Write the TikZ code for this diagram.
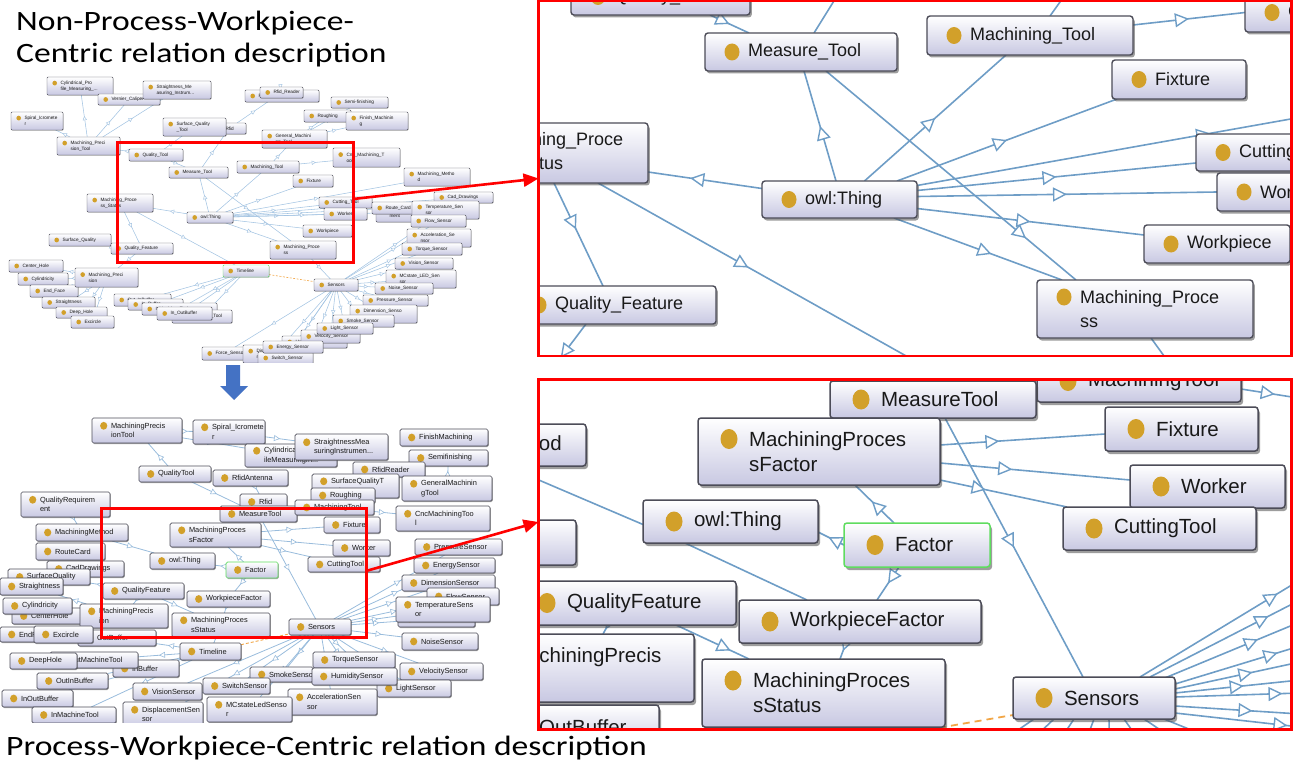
\documentclass[tikz,border=0pt]{standalone}
\usepackage{fontspec}
\usetikzlibrary{arrows.meta,decorations.markings,shadows}
\newfontfamily\gf{Liberation Sans}
\newfontfamily\tf[FakeStretch=1.2]{Carlito}
\definecolor{lav}{HTML}{C8C8E2}
\definecolor{bordc}{HTML}{4C4C58}
\definecolor{dotc}{HTML}{D2A02A}
\definecolor{lnkc}{HTML}{6E9DC6}
\definecolor{lnkl}{HTML}{A4C4E2}
\definecolor{redc}{HTML}{FF0000}
\definecolor{orng}{HTML}{F2A646}
\definecolor{arrb}{HTML}{4472C4}
\definecolor{grnc}{HTML}{5FDC5F}
\pgfdeclarelayer{edges}
\pgfdeclarelayer{fore}
\pgfsetlayers{edges,main,fore}
\def\dotdy{0}\def\dotx{0}\def\dotrx{1}\def\dotry{1}
\def\padt{13.5}\def\padb{19}\def\padT{43}\def\padB{51}
% class box: [extra options]{kind}{name}{x}{y}{width}{height}{label}
\newcommand\cls[8][]{%
  \edef\clspad{\csname pad#2\endcsname}%
  \pgfmathsetmacro\clstw{#6-2*\clspad}%
  \node[k#2, #1, anchor=north west, minimum height=#7pt, text width=\clstw pt] (#3) at (#4,#5) {#8};}
\tikzset{
  dotup/.code={\def\dotdy{#1}},
  dotpar/.code n args={3}{\def\dotx{#1}\def\dotrx{#2}\def\dotry{#3}},
  clsbox/.style={draw=bordc, top color=white, bottom color=lav, align=left, inner ysep=0pt,
    outer sep=0pt, text=black!90, dotup=0,
    path picture={\fill[dotc] ([xshift=\dotx pt, yshift=\dotdy pt]path picture bounding box.west)
      ellipse [x radius=\dotrx pt, y radius=\dotry pt];}},
  kt/.style={clsbox, line width=0.45pt, rounded corners=1pt, inner xsep=13.5pt,
    font=\gf\fontsize{4.7}{5.8}\selectfont, dotpar={7.7}{2.3}{2.4},
    drop shadow={shadow xshift=0.5pt, shadow yshift=-0.7pt, opacity=.45, fill=black!70}},
  kb/.style={clsbox, line width=0.7pt, rounded corners=1.5pt, inner xsep=19pt,
    font=\gf\fontsize{7.4}{9.4}\selectfont, dotpar={11.7}{3.6}{3.9},
    drop shadow={shadow xshift=0.8pt, shadow yshift=-1pt, opacity=.5, fill=black!70}},
  kT/.style={clsbox, line width=1.4pt, rounded corners=3pt, inner xsep=43pt,
    font=\gf\fontsize{18}{24}\selectfont, dotpar={27}{7.5}{8.5},
    drop shadow={shadow xshift=1.8pt, shadow yshift=-2.5pt, opacity=.55, fill=black!70}},
  kB/.style={clsbox, line width=1.5pt, rounded corners=3pt, inner xsep=51pt,
    font=\gf\fontsize{20.5}{25}\selectfont, dotpar={31}{8.5}{10},
    drop shadow={shadow xshift=2pt, shadow yshift=-3pt, opacity=.55, fill=black!70}},
  lnkS/.style={color=lnkl, line width=0.55pt, postaction={decorate, decoration={markings,
    mark=at position #1 with {\arrow{Triangle[length=4.2pt,width=4.2pt,fill=white,line width=0.45pt]}}}}},
  lnkS/.default=0.5,
  lnkb/.style={color=lnkl!80!lnkc, line width=0.8pt, postaction={decorate, decoration={markings,
    mark=at position #1 with {\arrow{Triangle[length=6pt,width=6pt,fill=white,line width=0.6pt]}}}}},
  lnkb/.default=0.5,
  lnkT/.style={color=lnkc, line width=1.6pt, postaction={decorate, decoration={markings,
    mark=at position #1 with {\arrow{Triangle[length=14pt,width=14pt,fill=white,line width=1.4pt]}}}}},
  lnkT/.default=0.5,
  lnT/.style={color=lnkc, line width=1.6pt},
  lnB/.style={color=lnkc, line width=1.6pt},
  dashS/.style={color=orng, line width=0.6pt, dash pattern=on 2pt off 1.5pt},
  dashb/.style={color=orng, line width=0.9pt, dash pattern=on 3pt off 2pt},
  dashB/.style={color=orng, line width=1.8pt, dash pattern=on 7pt off 5pt},
  redbox/.style={draw=redc, inner sep=0pt, outer sep=0pt, anchor=north west},
  ttl/.style={font=\tf\fontsize{28}{33}\selectfont, inner sep=0pt, text=black},
}
\begin{document}
\begin{tikzpicture}[x=1pt, y=-1pt]
\useasboundingbox (0,0) rectangle (1295,762);

% ---------- titles ----------
\node[ttl, anchor=base west] (ttlA) at (16,31) {Non-Process-Workpiece-};
\node[ttl, anchor=base west] (ttlB) at (16,63) {Centric relation description};
\node[ttl, anchor=base west] (ttlC) at (6,755) {Process-Workpiece-Centric relation description};

% ---------- upper overview graph ----------
\begin{scope}
\clip (0,70) rectangle (530,362);
\cls[dotup=2.9]{t}{tCyl}{47}{77}{66}{18}{Cylindrical\_Pro\\file\_Measuring\_...}
\cls{t}{tVer}{98}{94}{62}{11}{Vernier\_Caliper}
\cls[dotup=2.9]{t}{tStr}{143}{81}{68}{18}{Straightness\_Me\\asuring\_Instrum...}
\cls[dotup=2.9]{t}{tSpi}{11}{112}{52}{18}{Spiral\_Icromete\\r}
\cls[dotup=2.9]{t}{tMpt}{57}{137}{63}{18}{Machining\_Preci\\sion\_Tool}
\cls{t}{tRfid}{212}{123}{34}{11}{Rfid}
\cls[dotup=2.9]{t}{tSqt}{163}{118}{63}{18}{Surface\_Quality\\\_Tool}
\cls{t}{tQt}{129}{149}{54}{12}{Quality\_Tool}
\cls{t}{tMt}{169}{167}{59}{11}{Measure\_Tool}
\cls{t}{tMto}{237}{161}{62}{12}{Machining\_Tool}
\cls[dotup=2.9]{t}{tMps}{87}{194}{66}{18}{Machining\_Proce\\ss\_Status}
\cls{t}{tOwl}{187}{212}{46}{11}{owl:Thing}
\cls{t}{tRan}{245}{90}{74}{12}{Rfid\_Antenna}
\cls{t}{tRrd}{260}{87}{43}{11}{Rfid\_Reader}
\cls{t}{tSemi}{331}{97}{57}{11}{Semi-finishing}
\cls{t}{tRou}{304}{110}{47}{12}{Roughing}
\cls[dotup=2.9]{t}{tFin}{346}{112}{62}{18}{Finish\_Machinin\\g}
\cls[dotup=2.9]{t}{tGmt}{262}{130}{65}{18}{General\_Machini\\ng\_Tool}
\cls[dotup=2.9]{t}{tCnc}{333}{148}{67}{19}{Cnc\_Machining\_T\\ool}
\cls{t}{tFix}{293}{175}{40}{12}{Fixture}
\cls[dotup=2.9]{t}{tMme}{404}{168}{66}{18}{Machining\_Metho\\d}
\cls{t}{tCad}{434}{192}{59}{11}{Cad\_Drawings}
\cls{t}{tCt}{319}{197}{53}{11}{Cutting\_Tool}
\cls[dotup=2.9]{t}{tQrq}{376}{203}{42}{19}{Quality\_Require\\ment}
\cls{t}{tRc}{372}{202}{45}{12}{Route\_Card}
\cls[dotup=2.9]{t}{tTmp}{412}{201}{67}{18}{Temperature\_Sen\\sor}
\cls{t}{tWrk}{324}{208}{43}{12}{Worker}
\cls{t}{tWp}{303}{225}{49}{12}{Workpiece}
\cls[dotup=2.9]{t}{tMp}{270}{241}{66}{18}{Machining\_Proce\\ss}
\cls{t}{tFlo}{411}{215}{55}{12}{Flow\_Sensor}
\cls[dotup=2.9]{t}{tAcc}{407}{229}{64}{18}{Acceleration\_Se\\nsor}
\cls{t}{tTor}{402}{243}{60}{12}{Torque\_Sensor}
\cls{t}{tVis}{395}{258}{58}{11}{Vision\_Sensor}
\cls[dotup=2.9]{t}{tMcl}{386}{270}{70}{18}{MCstate\_LED\_Sen\\sor}
\cls{t}{tNoi}{375}{283}{58}{11}{Noise\_Sensor}
\cls{t}{tPre}{363}{295}{65}{11}{Pressure\_Sensor}
\cls[dotup=2.9]{t}{tDim}{350}{305}{67}{18}{Dimension\_Senso\\r}
\cls{t}{tSmo}{333}{315}{61}{12}{Smoke\_Sensor}
\cls{t}{tHum}{282}{336}{65}{12}{Humidity\_Sensor}
\cls{t}{tVel}{301}{330}{59}{13}{Velocity\_Sensor}
\cls{t}{tLig}{317}{323}{56}{11}{Light\_Sensor}
\cls{t}{tFor}{202}{347}{45}{13}{Force\_Sensor}
\cls[dotup=2.9]{t}{tDis}{243}{345}{64}{18}{Displacement\_Se\\nsor}
\cls{t}{tSwi}{258}{352}{55}{12}{Switch\_Sensor}
\cls{t}{tEne}{263}{341}{60}{12}{Energy\_Sensor}
\cls{t}{tSen}{314}{279}{44}{12}{Sensors}
\cls{t}{tSq}{49}{234}{62}{12}{Surface\_Quality}
\cls{t}{tQf}{111}{243}{62}{11}{Quality\_Feature}
\cls{t}{tCen}{9}{260}{54}{12}{Center\_Hole}
\cls{t}{tCyl2}{18}{273}{50}{12}{Cylindricity}
\cls{t}{tEnd}{30}{285}{48}{12}{End\_Face}
\cls{t}{tStn}{42}{297}{53}{11}{Straightness}
\cls{t}{tDee}{56}{307}{51}{11}{Deep\_Hole}
\cls{t}{tExc}{71}{316}{43}{12}{Excircle}
\cls[dotup=2.9]{t}{tMpr}{75}{268}{63}{19}{Machining\_Preci\\sion}
\cls{t}{tBd}{114}{294}{57}{12}{Out\_InBuffer}
\cls{t}{tBc}{128}{299}{55}{11}{In\_Buffer}
\cls{t}{tBb}{142}{303}{75}{12}{InMachine\_Tool}
\cls{t}{tBa}{172}{310}{60}{13}{OutMachine\_Tool}
\cls{t}{tBe}{157}{307}{55}{13}{In\_OutBuffer}
\cls[draw=grnc]{t}{tTim}{223}{265}{46}{12}{Timeline}
\end{scope}

\begin{pgfonlayer}{edges}
\begin{scope}
\clip (0,70) rectangle (530,362);
\foreach \a/\b in {tOwl/tMt, tOwl/tMto, tOwl/tFix, tOwl/tCt, tOwl/tWrk, tOwl/tWp, tOwl/tMp,
  tOwl/tMps, tOwl/tMme, tOwl/tCad, tOwl/tRc, tOwl/tQrq, tMt/tMp, tMt/tRfid, tQt/tMt, tQt/tMpt,
  tQt/tSqt, tMpt/tCyl, tMpt/tVer, tMpt/tStr, tMpt/tSpi, tMto/tGmt, tMto/tCnc, tGmt/tRou,
  tGmt/tSemi, tGmt/tFin, tRfid/tRrd, tRrd/tRan, tMps/tQf, tMps/tTim, tQf/tSq, tQf/tMpr,
  tMpr/tCen, tMpr/tCyl2, tMpr/tEnd, tMpr/tStn, tMpr/tDee, tMpr/tExc, tMp/tSen,
  tTim/tBa, tTim/tBb, tTim/tBc, tTim/tBd, tTim/tBe}
  \draw[lnkS] (\a) -- (\b);
\foreach \b in {tTmp,tFlo,tAcc,tTor,tVis,tMcl,tNoi,tPre,tDim,tSmo,tLig,tVel,tHum,tEne,tFor,tDis,tSwi}
  \draw[lnkS=0.6] (tSen) -- (\b);
\draw[dashS] (tTim) -- (tSen);
\end{scope}
\end{pgfonlayer}

% ---------- lower overview graph ----------
\begin{scope}
\clip (0,405) rectangle (530,722);
\cls[dotup=4.7]{b}{bMpt}{92}{418}{90}{25}{MachiningPrecis\\ionTool}
\cls[dotup=4.7]{b}{bSpi}{193}{420}{72}{24}{Spiral\_Icromete\\r}
\cls[dotup=4.7]{b}{bCyl}{245}{444}{92}{23}{CylindricalProf\\ileMeasuringIn...}
\cls[dotup=4.7]{b}{bStr}{295}{434}{93}{26}{StraightnessMea\\suringInstrumen...}
\cls{b}{bQt}{139}{466}{72}{16}{QualityTool}
\cls{b}{bRfa}{213}{470}{75}{16}{RfidAntenna}
\cls[dotup=4.7]{b}{bQrq}{21}{492}{89}{25}{QualityRequirem\\ent}
\cls{b}{bRfid}{240}{494}{47}{16}{Rfid}
\cls{b}{bMt}{220}{506}{77}{16}{MeasureTool}
\cls{b}{bFin}{400}{429}{88}{17}{FinishMachining}
\cls{b}{bSemi}{409}{450}{79}{16}{Semifinishing}
\cls{b}{bRrd}{353}{462}{72}{15}{RfidReader}
\cls[dotup=4.7]{b}{bSqt}{312}{474}{87}{24}{SurfaceQualityT\\ool}
\cls{b}{bRou}{311}{488}{64}{15}{Roughing}
\cls[dotup=4.7]{b}{bGmt}{402}{476}{90}{25}{GeneralMachinin\\gTool}
\cls{b}{bMto}{295}{500}{79}{15}{MachiningTool}
\cls[dotup=4.7]{b}{bCnc}{396}{506}{94}{25}{CncMachiningToo\\l}
\cls{b}{bFix}{324}{517}{56}{16}{Fixture}
\cls{b}{bMm}{36}{524}{92}{17}{MachiningMethod}
\cls[dotup=4.7]{b}{bMpf}{170}{523}{91}{24}{MachiningProces\\sFactor}
\cls{b}{bRc}{36}{543}{69}{17}{RouteCard}
\cls{b}{bWrk}{333}{540}{57}{16}{Worker}
\cls{b}{bPre}{415}{539}{87}{16}{PressureSensor}
\cls{b}{bCt}{308}{557}{72}{15}{CuttingTool}
\cls{b}{bEne}{414}{558}{81}{15}{EnergySensor}
\cls{b}{bDim}{402}{575}{93}{16}{DimensionSensor}
\cls{b}{bFlo}{427}{588}{72}{17}{FlowSensor}
\cls{b}{bFor}{398}{610}{77}{17}{ForceSensor}
\cls[dotup=4.7]{b}{bTmp}{396}{597}{94}{25}{TemperatureSens\\or}
\cls{b}{bSen}{289}{619}{62}{16}{Sensors}
\cls{b}{bNoi}{402}{633}{76}{17}{NoiseSensor}
\cls{b}{bSmo}{250}{667}{63}{15}{SmokeSensor}
\cls{b}{bTor}{313}{652}{82}{16}{TorqueSensor}
\cls{b}{bVel}{400}{663}{83}{17}{VelocitySensor}
\cls{b}{bLig}{377}{680}{74}{17}{LightSensor}
\cls{b}{bHum}{312}{668}{85}{17}{HumiditySensor}
\cls[dotup=4.7]{b}{bAcc}{288}{689}{89}{26}{AccelerationSen\\sor}
\cls{b}{bCad}{47}{561}{77}{16}{CadDrawings}
\cls{b}{bSq}{8}{569}{82}{16}{SurfaceQuality}
\cls{b}{bStn}{0}{578}{63}{17}{Straightness}
\cls{b}{bQf}{103}{583}{81}{16}{QualityFeature}
\cls{b}{bOwl}{150}{553}{65}{16}{owl:Thing}
\cls[draw=grnc]{b}{bFac}{226}{562}{52}{16}{Factor}
\cls{b}{bWpf}{187}{591}{83}{16}{WorkpieceFactor}
\cls[dotup=4.7]{b}{bMps}{172}{613}{98}{24}{MachiningProces\\sStatus}
\cls{b}{bCen}{12}{608}{70}{16}{CenterHole}
\cls{b}{bCyl2}{3}{598}{69}{16}{Cylindricity}
\cls[dotup=4.7]{b}{bMpr}{80}{604}{88}{24}{MachiningPrecis\\ion}
\cls{b}{bEnd}{0}{627}{38}{15}{EndFace}
\cls{b}{bOb}{78}{630}{78}{16}{OutBuffer}
\cls{b}{bExc}{34}{626}{59}{17}{Excircle}
\cls{b}{bTim}{180}{643}{61}{17}{Timeline}
\cls{b}{bInb}{113}{660}{66}{17}{InBuffer}
\cls{b}{bOmt}{50}{652}{88}{16}{OutMachineTool}
\cls{b}{bDee}{10}{653}{67}{16}{DeepHole}
\cls{b}{bOib}{37}{673}{71}{16}{OutInBuffer}
\cls{b}{bSwi}{203}{678}{67}{16}{SwitchSensor}
\cls{b}{bVis}{133}{683}{69}{17}{VisionSensor}
\cls{b}{bIob}{2}{690}{71}{17}{InOutBuffer}
\cls[dotup=4.7]{b}{bMcl}{207}{697}{85}{25}{MCstateLedSenso\\r}
\cls[dotup=4.7]{b}{bDis}{123}{702}{80}{25}{DisplacementSen\\sor}
\cls{b}{bImt}{32}{707}{84}{16}{InMachineTool}
\end{scope}

\begin{pgfonlayer}{edges}
\begin{scope}
\clip (0,405) rectangle (530,722);
\foreach \a/\b in {bQt/bMpt, bMpt/bSpi, bMpt/bCyl, bSpi/bStr, bQt/bMt, bRfa/bRfid, bMt/bSen,
  bMto/bCnc, bGmt/bSemi, bSqt/bRrd, bMpf/bFix, bMpf/bWrk, bMpf/bCt, bFac/bMpf, bFac/bOwl,
  bFac/bWpf, bMm/bOwl, bQf/bMpr, bQf/bMps, bWpf/bMps, bQrq/bMm, bMpr/bCyl2, bMpr/bCen,
  bMpr/bExc, bQf/bSq, bMpr/bStn, bTim/bOb, bTim/bInb, bTim/bOmt, bTim/bOib, bTim/bIob,
  bTim/bImt, bMps/bTim}
  \draw[lnkb] (\a) -- (\b);
\foreach \b in {bPre,bEne,bDim,bFlo,bFor,bTmp,bNoi,bTor,bVel,bHum,bLig,bAcc,bSmo,bSwi,bVis,bMcl,bDis}
  \draw[lnkb=0.6] (bSen) -- (\b);
\draw[dashb] (bTim) -- (bSen);
\end{scope}
\end{pgfonlayer}

% ---------- upper detail panel ----------
\begin{scope}
\clip (539.5,2) rectangle (1291,355);
\cls{T}{TQt}{571}{-22}{179}{37}{Quality\_Tool}
\cls{T}{TMt}{705}{33}{192}{38}{Measure\_Tool}
\cls{T}{TMto}{927}{16}{206}{39}{Machining\_Tool}
\cls{T}{TCnc}{1245}{-7}{160}{39}{Cnc\_Machining\_Tool}
\cls{T}{TFix}{1112}{60}{134}{39}{Fixture}
\cls[dotup=12]{T}{TMps}{441}{123}{207}{60}{Machining\_Proce\\ss\_Status}
\cls{T}{TOwl}{762}{181}{155}{37}{owl:Thing}
\cls{T}{TCt}{1196}{134}{160}{37}{Cutting\_Tool}
\cls{T}{TWrk}{1217}{173}{140}{38}{Worker}
\cls{T}{TWp}{1144}{225}{146}{38}{Workpiece}
\cls[dotup=12]{T}{TMp}{1037}{280}{216}{58}{Machining\_Proce\\ss}
\cls{T}{TQf}{512}{286}{204}{38}{Quality\_Feature}
\end{scope}

\begin{pgfonlayer}{edges}
\begin{scope}
\clip (539.5,2) rectangle (1291,355);
\coordinate (TupA) at (842,-12);
\coordinate (TupB) at (1070,-12);
\coordinate (TmmR) at (1330,112);
\coordinate (TtlB) at (940,375);
\coordinate (TqfB) at (540,385);
\coordinate (TmpB) at (1185,385);
\draw[lnkT] ([xshift=49.5]TQt.south) -- ([xshift=-52]TMt.north);
\draw[lnT] ([xshift=13]TMt.north) -- (TupA);
\draw[lnkT] ([xshift=-3.5]TOwl.north) -- ([xshift=3]TMt.south);
\draw[lnkT=0.8] ([xshift=25]TMt.south) -- ([xshift=-69]TMp.north);
\draw[lnkT] ([xshift=25]TOwl.north) -- ([xshift=-24]TMto.south);
\draw[lnT] ([xshift=20]TMto.north) -- (TupB);
\draw[lnkT] ([yshift=10.5]TMto.east) -- (TCnc.west);
\draw[lnkT] ([xshift=-20]TOwl.north east) -- ([xshift=5]TFix.south west);
\draw[lnkT=0.71] ([yshift=14]TOwl.east) -- (TmmR);
\draw[lnkT] ([yshift=9]TOwl.east) -- ([yshift=-10.5]TCt.west);
\draw[lnkT] ([yshift=3]TOwl.east) -- (TWrk.west);
\draw[lnkT] ([yshift=-9]TOwl.east) -- ([yshift=9]TWp.west);
\draw[lnkT=0.58] ([xshift=-23]TOwl.south east) -- ([xshift=25]TMp.north west);
\draw[lnkT=0.63] ([yshift=11]TOwl.west) -- ([yshift=-19]TMps.east);
\draw[lnkT=0.45] ([xshift=113]TMps.south west) -- ([xshift=91]TQf.north west);
\draw[lnkT=0.44] ([xshift=157]TMps.south west) -- (TtlB);
\draw[lnkT=0.55] ([xshift=74]TQf.south west) -- (TqfB);
\draw[lnT] ([xshift=114]TMp.south west) -- (TmpB);
\end{scope}
\end{pgfonlayer}

% ---------- lower detail panel ----------
\begin{scope}
\clip (539.5,380.5) rectangle (1291,729);
\cls{B}{BMto}{1037}{360}{204}{42}{MachiningTool}
\cls{B}{BMt}{830}{381}{206}{37}{MeasureTool}
\cls{B}{BMm}{349}{424}{237}{42}{MachiningMethod}
\cls{B}{BRc}{370}{520}{206}{45}{RouteCard}
\cls[dotup=12.5]{B}{BMpf}{698}{418}{242}{67}{MachiningProces\\sFactor}
\cls{B}{BFix}{1105}{407}{153}{44}{Fixture}
\cls{B}{BWrk}{1130}{465}{155}{43}{Worker}
\cls{B}{BCt}{1063}{507}{193}{43}{CuttingTool}
\cls{B}{BOwl}{643}{500}{175}{43}{owl:Thing}
\cls[draw=grnc]{B}{BFac}{844}{523}{146}{44}{Factor}
\cls{B}{BQf}{516}{581}{220}{44}{QualityFeature}
\cls{B}{BWpf}{739}{600}{242}{43}{WorkpieceFactor}
\cls[dotup=12.5]{B}{BMpr}{460}{634}{234}{68}{MachiningPrecis\\ion}
\cls{B}{BIob}{471}{705}{188}{44}{InOutBuffer}
\cls[dotup=12.5]{B}{BMps}{702}{659}{243}{68}{MachiningProces\\sStatus}
\cls{B}{BSen}{1013}{677}{162}{42}{Sensors}
\end{scope}

\begin{pgfonlayer}{edges}
\begin{scope}
\clip (539.5,380.5) rectangle (1291,729);
\coordinate (BmtoR) at (1330,403);
\coordinate (BtlB) at (880,738);
\draw[lnkT] ([xshift=-91]BMt.south east) -- ([xshift=-11]BSen.north);
\draw[lnkT=0.36] ([yshift=6.5]BMpf.east) -- ([yshift=-5]BFix.west);
\draw[lnkT=0.38] ([yshift=-11.5]BMpf.east) -- ([yshift=6.5]BWrk.west);
\draw[lnkT=0.36] ([yshift=-28.5]BMpf.east) -- ([xshift=4]BCt.north west);
\draw[lnkT=0.57] ([xshift=-23]BFac.north) -- ([xshift=36]BMpf.south);
\draw[lnkT=0.6] (BFac.west) -- ([yshift=-10.5]BOwl.east);
\draw[lnkT] ([xshift=-18]BFac.south) -- ([xshift=17]BWpf.north);
\draw[lnB] ([xshift=-80]BMm.south east) -- ([yshift=-3]BOwl.west);
\draw[lnB] ([xshift=-133]BOwl.south east) -- ([xshift=68]BWpf.north west);
\draw[lnkT] ([xshift=92]BQf.south west) -- ([xshift=143]BMpr.north west);
\draw[lnkT=0.75] ([xshift=-60]BQf.south east) -- ([xshift=47]BMps.north west);
\draw[lnkT] ([xshift=-14]BWpf.south) -- ([xshift=16.5]BMps.north);
\draw[lnkT=0.38] ([yshift=-8]BMto.east) -- (BmtoR);
\foreach \i/\sx/\sy/\ty/\p in {1/-35/0/580/0.86, 2/-25/0/600/0.79, 3/-15/-3/622/0.70,
    4/0/-7/646/0.82, 5/0/-12/662/0.62, 6/0/-16/680/0.55, 7/0/-20/693/0.86,
    8/0/-29/714/0.62, 9/0/-36/727/0.9} {
  \coordinate (BsR\i) at (1300,\ty);
  \draw[lnkT=\p] ([xshift=\sx, yshift=\sy]BSen.north east) -- (BsR\i);
}
\foreach \i/\sx/\tx in {1/-60/960, 2/-40/1000, 3/-20/1040, 4/0/1075, 5/15/1110,
    6/30/1160, 7/50/1220, 8/70/1290} {
  \coordinate (BsD\i) at (\tx,770);
  \draw[lnB] ([xshift=\sx]BSen.south) -- (BsD\i);
}
\draw[dashB] (BtlB) -- ([yshift=4]BSen.south west);
\end{scope}
\end{pgfonlayer}

% ---------- zoom frames and pointers ----------
\begin{pgfonlayer}{fore}
\node[redbox, line width=3pt, minimum width=236pt, minimum height=119pt] (zoomA) at (117,143) {};
\node[redbox, line width=3pt, minimum width=265pt, minimum height=129pt] (zoomB) at (101,508) {};
\node[redbox, line width=2.2pt, minimum width=753pt, minimum height=355pt] (panelA) at (538.5,1) {};
\node[redbox, line width=2.2pt, minimum width=753pt, minimum height=350pt] (panelB) at (538.5,379.5) {};
\draw[redc, line width=2.6pt, -{Triangle[length=15pt,width=13pt]}]
  ([yshift=3.5]zoomA.east) -- (panelA.west);
\draw[redc, line width=2.6pt, -{Triangle[length=15pt,width=13pt]}]
  ([yshift=1.5]zoomB.east) -- ([yshift=32.5]panelB.west);
\fill[arrb] (226,365) -- (240,365) -- (240,386) -- (248,386) -- (234,400)
  -- (220,386) -- (226,386) -- cycle;
\end{pgfonlayer}
\end{tikzpicture}
\end{document}
